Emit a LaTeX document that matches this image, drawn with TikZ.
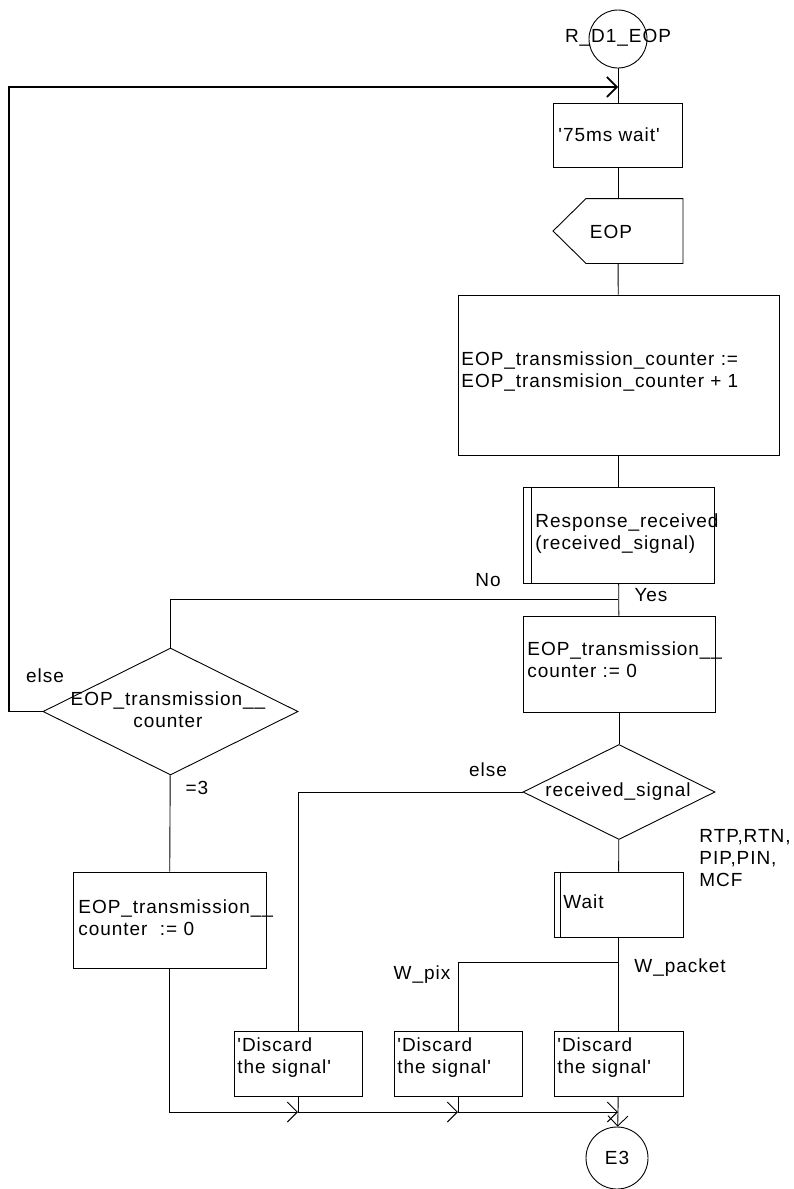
\documentclass[tikz,border=0pt]{standalone}
\usepackage{fontspec}
\newfontfamily\lsans{Liberation Sans}[LetterSpace=5]
\usetikzlibrary{shapes.geometric,arrows.meta,calc}
\begin{document}
\begin{tikzpicture}[x=1pt,y=-1pt,line width=0.9pt,
  box/.style={draw,rectangle,inner sep=0pt},
  shp/.style={inner sep=0pt},
  txt/.style={inner sep=0pt,align=left,anchor=west,font=\lsans\fontsize{19}{22}\selectfont},
  ctxt/.style={inner sep=0pt,align=center,font=\lsans\fontsize{19}{22}\selectfont},
  arr/.style={-{Straight Barb[length=10pt,width=20pt]}},
  loopline/.style={line width=1.6pt}]
\useasboundingbox (0,0) rectangle (794,1189);

% ---- main column shapes
\node[draw,circle,minimum size=58pt,inner sep=0pt] (start) at (618,39) {};
\node[ctxt] (startlbl) at (618,38) {R\_D1\_EOP};

\node[box,minimum width=129pt,minimum height=64pt] (w75) at (618,135) {};
\node[txt] (w75t) at (558,135) {'75ms wait'};

\node[shp,minimum width=129pt,minimum height=64pt] (eop) at (618,231) {};
\draw (eop.north east) -- (eop.south east) -- ($(eop.south west)+(33,0)$) -- (eop.west) -- ($(eop.north west)+(33,0)$) -- cycle;
\node[ctxt] (eopt) at (611,232) {EOP};

\node[box,minimum width=321pt,minimum height=160pt] (inc) at (618.5,375) {};
\node[txt] (inct) at (461,371) {EOP\_transmission\_counter :=\\EOP\_transmision\_counter + 1};

\node[box,minimum width=191pt,minimum height=96pt] (resp) at (618.5,535) {};
\draw ($(resp.north west)+(9,0)$) -- ($(resp.south west)+(9,0)$);
\node[txt] (respt) at (535,533.5) {Response\_received\\(received\_signal)};

\node[box,minimum width=192pt,minimum height=96pt] (reset2) at (619,664) {};
\node[txt] (reset2t) at (527,660) {EOP\_transmission\_\_\\counter := 0};

\node[draw,diamond,minimum width=192pt,minimum height=95pt,inner sep=0pt] (dec2) at (619,792) {};
\node[ctxt] (dec2t) at (618,792) {received\_signal};

\node[box,minimum width=129pt,minimum height=65pt] (waitb) at (618.5,904.5) {};
\draw ($(waitb.north west)+(7,0)$) -- ($(waitb.south west)+(7,0)$);
\node[txt] (waitt) at (563,902) {Wait};

% ---- left branch
\node[draw,diamond,minimum width=255pt,minimum height=127pt,inner sep=0pt] (dec1) at (170.5,711.5) {};
\node[ctxt] (dec1t) at (168,710) {EOP\_transmission\_\_\\counter};

\node[box,minimum width=193pt,minimum height=96pt] (reset1) at (169.5,920) {};
\node[txt] (reset1t) at (78,917.5) {EOP\_transmission\_\_\\counter~ := 0};

% ---- discard boxes
\node[box,minimum width=128pt,minimum height=65pt] (disc1) at (298,1063.5) {};
\node[box,minimum width=128pt,minimum height=65pt] (disc2) at (458,1063.5) {};
\node[box,minimum width=129pt,minimum height=65pt] (disc3) at (618.5,1063.5) {};
\node[txt] (disc1t) at (237,1057.5) {'Discard\\the signal'};
\node[txt] (disc2t) at (397,1057.5) {'Discard\\the signal'};
\node[txt] (disc3t) at (557,1057.5) {'Discard\\the signal'};

\node[draw,circle,minimum size=62pt,inner sep=0pt] (e3) at (617,1158) {};
\node[ctxt] (e3t) at (617,1158) {E3};

% ---- labels
\node[ctxt] (lno) at (488,580) {No};
\node[ctxt] (lyes) at (651,595) {Yes};
\node[ctxt] (lelse1) at (45,676) {else};
\node[ctxt] (leq3) at (197,788) {=3};
\node[ctxt] (lelse2) at (488,770) {else};
\node[txt] (lrtp) at (699,858) {RTP,RTN,\\PIP,PIN,\\MCF};
\node[ctxt] (lwpix) at (422,975) {W\_pix};
\node[txt] (lwpack) at (634,968) {W\_packet};

% ---- coordinates
\coordinate (topjoin) at (618,87);
\coordinate (loopc) at (9,87);
\coordinate (br) at (618,599);
\coordinate (wb) at (618,962);
\coordinate (m1) at (298,1112);
\coordinate (m2) at (458,1112);
\coordinate (m3) at (618,1112);

% ---- connectors
\draw (start) -- (w75);
\draw (w75) -- (eop);
\draw (eop) -- (inc);
\draw (inc) -- (resp);
\draw (resp) -- (reset2);
\draw (br) -| (dec1.north);
\draw[loopline,arr] (dec1.west) -| (loopc) -- (topjoin);
\draw (reset2) -- (dec2);
\draw (dec2) -- (waitb);
\draw (waitb) -- (disc3);
\draw (wb) -| (disc2.north);
\draw (dec2.west) -| (disc1.north);
\draw (dec1) -- (reset1);
\draw[arr] (reset1.south) |- (m1);
\draw (disc1) -- (m1);
\draw[arr] (m1) -- (m2);
\draw (disc2) -- (m2);
\draw[arr] (m2) -- (m3);
\draw (disc3) -- (m3);
\draw[arr] (m3) -- (e3);
\end{tikzpicture}
\end{document}
